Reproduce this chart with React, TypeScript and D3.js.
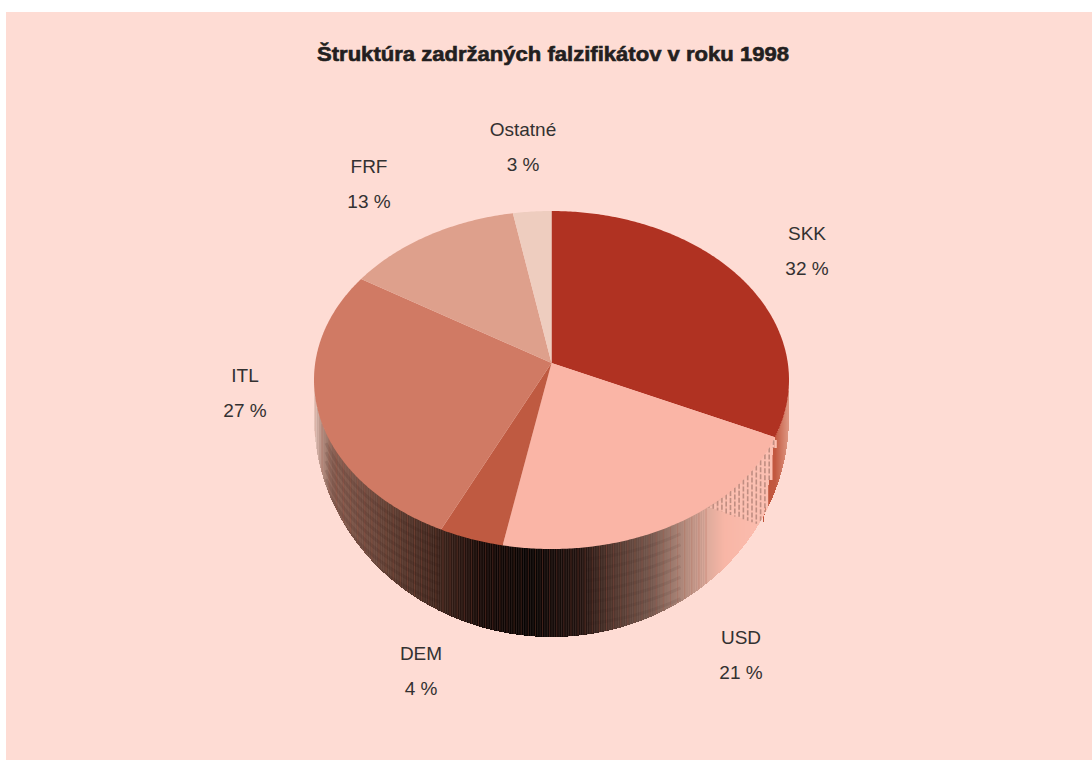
import React from "react";
import * as d3 from "d3";

const title = "Štruktúra zadržaných falzifikátov v roku 1998";
const categories = ["SKK", "USD", "DEM", "ITL", "FRF", "Ostatné"];
const percentLabels = ["32 %", "21 %", "4 %", "27 %", "13 %", "3 %"];
const sliceShares = [30.5, 22.8, 4.4, 27.5, 12.2, 2.6];
const sliceColors = ["#b03222", "#fab5a6", "#bf5a41", "#d07a64", "#dea08c", "#eecdbf"];
const labelX = [807, 741, 421, 245, 369, 523];
const labelY = [234, 638, 654, 376, 167, 130];

const wallStops = [-1, -0.97, -0.92, -0.72, -0.51, -0.3, -0.09, 0.12, 0.25, 0.42, 0.54, 0.65, 0.73, 0.9];
const wallColors = ["#f0d2c8", "#bb9588", "#8a6053", "#664438", "#42281f", "#140806", "#060302", "#1f110e", "#4c332b", "#75584e", "#ac8679", "#dcaa9b", "#f8b6a6", "#fcbdaf"];
const moireOffsets = [10, 19, 28, 37, 46, 55, 64, 73];

const cx = 551.5, cy = 380, rx = 237.5, ry = 169;
const hubY = 363;
const botCy = 417, botRy = 220;

const wallColor = d3.scaleLinear<string>().domain(wallStops).range(wallColors).clamp(true);
const skkWall = d3.scaleLinear<string>().domain([763, 775, 788]).range(["#c0533a", "#c25840", "#dd9580"]).clamp(true);
const topY = (x: number) => cy + ry * Math.sqrt(Math.max(0, 1 - ((x - cx) / rx) ** 2));
const botY = (x: number) => botCy + botRy * Math.sqrt(Math.max(0, 1 - ((x - cx) / rx) ** 2));
const rim = (a: number): [number, number] => [cx + rx * Math.sin(a), cy - ry * Math.cos(a)];

export default function App() {
  const pie = d3.pie<number>().sort(null).value((d) => d)(sliceShares);
  const wedge = (d: d3.PieArcDatum<number>) => {
    const steps = d3.range(d.startAngle, d.endAngle, 0.01).concat(d.endAngle);
    const line = d3.line();
    return line([[cx, hubY] as [number, number], ...steps.map(rim)]) + "Z";
  };
  const end0 = rim(pie[0].endAngle);
  const skkBottomX = 763, skkBottomY = 526;
  const skkLine = d3.scaleLinear().domain([end0[0], skkBottomX]).range([end0[1], skkBottomY]);
  const hatchStart = 707;
  const hatchLine = d3.scaleLinear().domain([hatchStart, skkBottomX]).range([507, skkBottomY]);

  const cols = d3.range(cx - rx + 0.5, cx + rx, 1);
  const stripes = d3.range(cx - rx + 1, 708, 2.37);
  const hatch = d3.range(hatchStart + 2, end0[0], 4.3);
  const wallPath =
    d3.line()(cols.map((x) => [x, topY(x) - 1] as [number, number]).concat(cols.slice().reverse().map((x) => [x, botY(x)] as [number, number]))) + "Z";

  return (
    <svg width={1092} height={760} style={{ position: "absolute", left: 0, top: 0 }}>
      <defs>
        <clipPath id="wall"><path d={wallPath} /></clipPath>
      </defs>
      <rect x={6} y={12} width={1086} height={748} fill="#fedcd4" />
      <text x={553} y={61} textAnchor="middle" fontFamily="'Liberation Sans'" fontWeight={700} fontSize={20} textLength={472} lengthAdjust="spacingAndGlyphs" fill="#231f20" stroke="#231f20" strokeWidth={0.6}>{title}</text>

      <g fill="none" shapeRendering="crispEdges">
        {cols.map((x) => {
          const y0 = topY(x), y1 = botY(x);
          const n = (x - cx) / rx;
          const skkTop = x >= skkBottomX ? (x <= end0[0] ? skkLine(x) : y0) : null;
          return (
            <g key={x}>
              <line x1={x} x2={x} y1={y0 - 1} y2={skkTop ?? y1} stroke={wallColor(n)} />
              {skkTop !== null && <line x1={x} x2={x} y1={skkTop} y2={y1} stroke={skkWall(x)} />}
            </g>
          );
        })}
      </g>
      <g fill="none" clipPath="url(#wall)">
        {stripes.map((x, i) => {
          const n = (x - cx) / rx;
          const tint = i % 3 === 0 ? "#a85a48" : "#9a7a70";
          const mixAmount = i % 3 === 0 ? 0.42 : 0.28;
          return <line key={x} x1={x} x2={x} y1={topY(x)} y2={botY(x)} stroke={d3.interpolateRgb(wallColor(n), tint)(mixAmount)} strokeWidth={0.8} />;
        })}
        {moireOffsets.map((off) => (
          <g key={off}>
            <path d={d3.line<number>().x((x) => x).y((x) => topY(x) + off)(d3.range(cx - rx + 12, cx - 110, 2)) || ""} stroke="#1c0d09" strokeOpacity={0.1} strokeWidth={3} />
            <path d={d3.line<number>().x((x) => x).y((x) => topY(x) + off * 1.2)(d3.range(cx + 35, cx + 130, 2)) || ""} stroke="#1c0d09" strokeOpacity={0.07} strokeWidth={3} />
          </g>
        ))}
        {hatch.map((x) => {
          const y0 = topY(x), y1 = x <= skkBottomX ? hatchLine(x) : skkLine(x);
          return (
            <g key={x}>
              <line x1={x + 2} x2={x + 2} y1={y0} y2={y1} stroke="#fbc0b2" strokeWidth={2.6} />
              <line x1={x} x2={x} y1={y0} y2={y1} stroke="#c08e82" strokeWidth={1.6} strokeDasharray="5 2" />
            </g>
          );
        })}
      </g>

      <g>
        {pie.map((d, i) => (
          <path key={categories[i]} d={wedge(d)} fill={sliceColors[i]} />
        ))}
      </g>

      <g fontFamily="'Liberation Sans'" fontSize={19} fill="#333131" textAnchor="middle">
        {categories.map((c, i) => (
          <g key={c}>
            <text x={labelX[i]} y={labelY[i] + 6}>{c}</text>
            <text x={labelX[i]} y={labelY[i] + 41}>{percentLabels[i]}</text>
          </g>
        ))}
      </g>
    </svg>
  );
}
